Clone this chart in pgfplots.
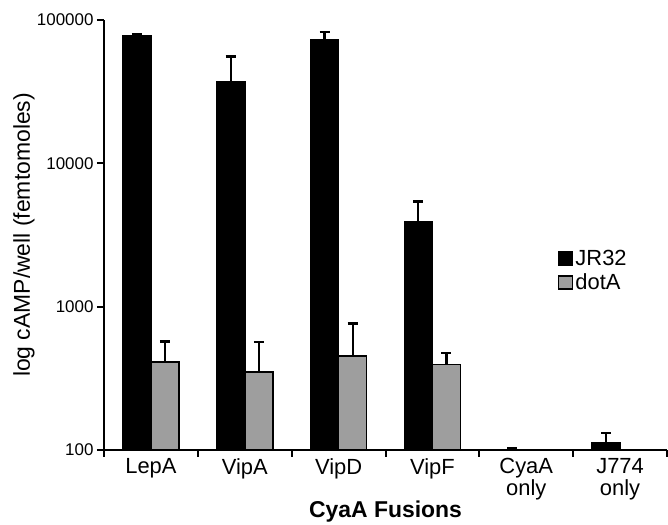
\documentclass[border=0pt]{standalone}
\usepackage{pgfplots}
\pgfplotsset{compat=1.18}
\usepackage{fontspec}
\setmainfont{Liberation Sans}
\definecolor{barGray}{RGB}{158,158,158}
\pgfplotstableread{
x y e
1 77800 2200
2 37150 18450
3 72600 10000
4 3900 1500
5 101 2
6 112 20
}\jrdata
\pgfplotstableread{
x y e
1 411 162
2 350 217
3 453 308
4 394 83
}\dotdata
\begin{document}
\begin{tikzpicture}
\path[use as bounding box] (-104bp,-75bp) rectangle (564bp,450bp);
\begin{axis}[
  at={(0,0)}, anchor=south west,
  scale only axis, width=563bp, height=430bp,
  ymode=log, ymin=100, ymax=100000, log origin=infty,
  xmin=0.5, xmax=6.5,
  axis lines*=left,
  axis line style={line width=2bp, -},
  ytick={100,1000,10000,100000},
  yticklabels={100,1000,10000,100000},
  yminorticks=false,
  xtick={0.5,1.5,...,6.5},
  x tick label as interval,
  xticklabels={LepA,VipA,VipD,VipF,{CyaA\\only},{J774\\only}},
  tick align=outside,
  major tick length=7bp,
  tick style={line width=2bp, black},
  yticklabel style={font=\fontsize{17}{19}\selectfont},
  xticklabel style={font=\fontsize{22}{22}\selectfont, align=center, inner sep=0pt, yshift=-1bp},
  ylabel={log cAMP/well (femtomoles)},
  ylabel style={font=\fontsize{23}{25}\selectfont, at={(axis description cs:-0.142,0.5)}, anchor=center},
  xlabel={\textbf{CyaA Fusions}},
  xlabel style={font=\fontsize{23}{25}\selectfont, at={(axis description cs:0.5,-0.158)}, anchor=base},
  ybar, bar width=0.3,
  legend style={at={(0.806,0.47)}, anchor=north west, draw=none, fill=none,
    inner sep=0pt, row sep=3bp,
    nodes={inner sep=2bp, font=\fontsize{22}{24}\selectfont}},
  legend cell align=left,
  legend image code/.code={\draw[#1, line width=1.5bp] (0bp,-6.5bp) rectangle (14bp,6.5bp);},
]
\addplot[fill=black, draw=black, line width=1.5bp, bar shift=-0.15,
  error bars/.cd, y dir=plus, y explicit,
  error bar style={line width=2.2bp, black},
  error mark options={rotate=90, mark size=5bp, line width=2.4bp, black}]
  table[x=x, y=y, y error plus=e] {\jrdata};
\addlegendentry{JR32}
\addplot[fill=barGray, draw=black, line width=1.5bp, bar shift=0.15,
  error bars/.cd, y dir=plus, y explicit,
  error bar style={line width=2.2bp, black},
  error mark options={rotate=90, mark size=5bp, line width=2.4bp, black}]
  table[x=x, y=y, y error plus=e] {\dotdata};
\addlegendentry{dotA}
\end{axis}
\end{tikzpicture}
\end{document}
